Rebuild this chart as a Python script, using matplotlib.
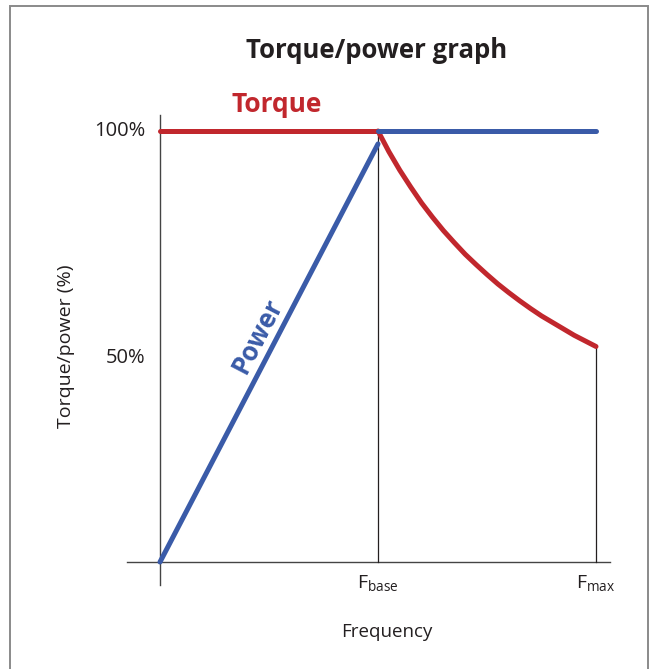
import matplotlib
matplotlib.use("Agg")
import matplotlib.pyplot as plt
from matplotlib import font_manager
from matplotlib.patches import Rectangle
from matplotlib.transforms import offset_copy

# ---- data ----
base_freq = 1.0
max_freq = 2.0
torque_const_f = [0.0, 1.0]
torque_const_v = [100, 100]
torque_fw_f = [1.0, 1.025, 1.05, 1.1, 1.15, 1.2, 1.25, 1.3, 1.35, 1.4, 1.45, 1.5,
               1.55, 1.6, 1.65, 1.7, 1.75, 1.8, 1.85, 1.9, 1.95, 2.0]
torque_fw_v = [100, 97.6, 95.2, 90.9, 87.0, 83.3, 80.0, 76.9, 74.1, 71.4, 69.0, 66.7,
               64.5, 62.5, 60.6, 58.8, 57.1, 55.6, 54.1, 52.6, 51.3, 50]
power_ramp_f = [0.0, 1.0]
power_ramp_v = [0, 97]
power_const_f = [1.0, 2.0]
power_const_v = [100, 100]
ytick_vals = [100, 50]
ytick_labels = ["100%", "50%"]

names = {f.name for f in font_manager.fontManager.ttflist}
fam = [n for n in ["Open Sans", "DejaVu Sans"] if n in names]
plt.rcParams['font.family'] = fam

RED = "#C1272D"
BLUE = "#3A5BA8"
DARK = "#231F20"

W, H = 654, 669
fig = plt.figure(figsize=(W / 100, H / 100), dpi=100)
ax = fig.add_axes([0, 0, 1, 1])
# pixel mapping: f=0 -> px 160, f=1 -> px 378 ; v=0 -> py 562, v=100 -> py 131
sx = 218.0
sy = 4.31
ax.set_xlim(-160 / sx, (W - 160) / sx)
ax.set_ylim((562 - H) / sy, 562 / sy)
ax.axis('off')

# frame
fig.patches.append(Rectangle((10 / W, -0.05), (648 - 10) / W, (H - 6) / H + 0.05,
                             transform=fig.transFigure, fill=False,
                             edgecolor="#8a8a8a", linewidth=1.4))

# axes lines
ax.plot([0, 0], [-5.3, 103.7], color="#444444", lw=1.0, zorder=2)
ax.plot([-0.151, 2.064], [0, 0], color="#444444", lw=1.0, zorder=2)
ax.plot([base_freq, base_freq], [0, 100], color=DARK, lw=0.9, zorder=2)
ax.plot([max_freq, max_freq], [0, 50], color=DARK, lw=0.9, zorder=2)

lw = 3.6
ax.plot(torque_const_f, torque_const_v, color=RED, lw=lw, solid_capstyle='round',
        solid_joinstyle='round', zorder=3)
ax.plot(torque_fw_f, torque_fw_v, color=RED, lw=lw, solid_capstyle='round',
        solid_joinstyle='round', zorder=3)
ax.plot(power_const_f, power_const_v, color=BLUE, lw=lw, solid_capstyle='round', zorder=4)
ax.plot(power_ramp_f, power_ramp_v, color=BLUE, lw=lw, solid_capstyle='round', zorder=4)

# tick labels (the 50% label sits slightly below its level in the original artwork)
label_shift = [0, -8]
for v, lab, sh in zip(ytick_vals, ytick_labels, label_shift):
    tr = offset_copy(ax.transData, fig=fig, x=0, y=sh, units='points')
    ax.text(-15 / sx, v, lab, ha='right', va='center', fontsize=14.5, color=DARK,
            transform=tr)

ax.text(base_freq, -5.0, r"F$_\mathregular{base}$", ha='center', va='center',
        fontsize=14, color=DARK)
ax.text(max_freq, -5.0, r"F$_\mathregular{max}$", ha='center', va='center',
        fontsize=14, color=DARK)

fig.text(387 / W, 1 - 632 / H, "Frequency", ha='center', va='center', fontsize=13.5, color=DARK)
fig.text(66 / W, 1 - 346 / H, "Torque/power (%)", ha='center', va='center',
         rotation=90, fontsize=14, color=DARK)
fig.text(377 / W, 1 - 51 / H, "Torque/power graph", ha='center', va='center',
         fontsize=18.5, fontweight='bold', color=DARK)
fig.text(277 / W, 1 - 104 / H, "Torque", ha='center', va='center',
         fontsize=19, fontweight='bold', color=RED)
fig.text(258 / W, 1 - 336 / H, "Power", ha='center', va='center', rotation=62.5,
         rotation_mode='anchor', fontsize=18.5, fontweight='bold', color=BLUE)

fig.savefig("out.png", dpi=100)
